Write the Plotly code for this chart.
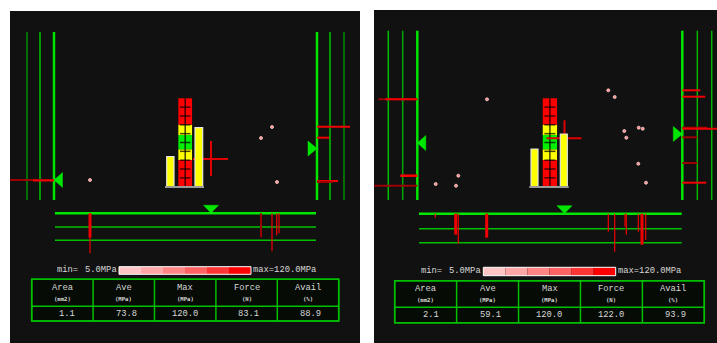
import plotly.graph_objects as go

FIG_W, FIG_H = 717, 343

# ---------------- readings ----------------
TABLE_HEADERS = ["Area", "Ave", "Max", "Force", "Avail"]
TABLE_UNITS = ["(mm2)", "(MPa)", "(MPa)", "(N)", "(%)"]
TABLE_A = [1.1, 73.8, 120.0, 83.1, 88.9]
TABLE_B = [2.1, 59.1, 120.0, 122.0, 93.9]

SCALE_MIN = 5.0
SCALE_MAX = 120.0

# stacked zones of the centre gauge, bottom -> top
COLUMN_ZONES = [26.7, 10.7, 14.3, 10.3, 26.4]

# side bar heights (left bar, right bar)
BARS_A = [30.2, 59.0]
BARS_B = [37.7, 52.7]

# load centre (x, y)
CROSS_A = [25.8, 27.7]
CROSS_B = [14.6, 48.4]

# rail marker heights (west marker, east marker)
RAIL_MARK_A = [6.7, 38.2]
RAIL_MARK_B = [43.7, 52.7]

# contact points
DOTS_A_X = [-95.2, 86.8, 75.8, 91.8]
DOTS_A_Y = [6.7, 59.7, 48.7, 4.7]
DOTS_B_X = [-62.9, 58.4, 64.8, -91.6, -114.2, -93.9, 74.4, 88.8, 92.8, 76.4, 88.4, 96.1]
DOTS_B_Y = [87.4, 96.4, 89.7, 11.0, 2.7, 1.0, 55.7, 59.0, 58.0, 49.0, 23.0, 4.0]

# projected profiles: position, length, level (0 faint, 1 normal, 2 strong)
WEST_A_Y = [6.7, 6.2]
WEST_A_LEN = [44, 21]
WEST_A_LVL = [0, 1]
EAST_A_Y = [60.0, 49.0, 5.7, 4.7]
EAST_A_LEN = [33, 12, 21, 16]
EAST_A_LVL = [1, 1, 1, 0]
SOUTH_A_X = [-95.2, -95.2, 75.8, 86.8, 91.5, 93.8]
SOUTH_A_LEN = [24, 40, 24, 38, 22, 20]
SOUTH_A_LVL = [2, 1, 0, 1, 1, 1]

WEST_B_Y = [87.4, 87.4, 11.0, 1.0]
WEST_B_LEN = [39, 32, 17, 43]
WEST_B_LVL = [0, 1, 2, 0]
EAST_B_Y = [96.4, 90.0, 59.0, 58.0, 49.4, 23.7, 4.0]
EAST_B_LEN = [18, 23, 25, 40, 15, 15, 24]
EAST_B_LVL = [1, 1, 0, 1, 0, 0, 1]
SOUTH_B_X = [-114.6, -94.2, -91.6, -63.2, 58.4, 64.8, 75.1, 76.4, 88.4, 92.1, 95.8]
SOUTH_B_LEN = [4, 21, 30, 24, 18, 38, 13, 21, 18, 31, 26]
SOUTH_B_LVL = [1, 2, 1, 2, 1, 1, 1, 1, 1, 2, 1]

# ---------------- styling ----------------
PANEL_BG = "#111111"
TEXT_COLOR = "#d8d8d8"
GRID_GREEN = "#00c000"
BRIGHT_GREEN = "#00e600"
TABLE_BG = "#060b06"
MONO = "Liberation Mono, DejaVu Sans Mono, monospace"
SCALE_COLORS = ["#ffc4c4", "#ffa6a6", "#ff8585", "#ff6262", "#ff3434", "#ff0000"]
ZONE_COLORS = ["#ff0000", "#ffff00", "#00ee00", "#ffff00", "#ff0000"]
H_LINE_STYLE = {0: ("#9c0000", 2.0), 1: ("#f00000", 2.0), 2: ("#ff0000", 2.5)}
V_LINE_STYLE = {0: ("#9c0000", 2.0), 1: ("#f00000", 1.2), 2: ("#f00000", 3.0)}

# panel frames (pixel extents on the page) and local layout in panel units
GEOM_A = dict(
    px=(10, 360), py=(11, 343), cx=185.2, base=186.7,
    west=[-158.2, -145.2, -131.2], west_col=["#008c00", "#00c400", BRIGHT_GREEN], west_w=[1.5, 1.5, 2.5],
    east=[131.8, 144.8, 158.8], east_col=[BRIGHT_GREEN, "#00c400", "#008c00"], east_w=[2.5, 1.5, 1.5],
    rail_top=154.7, rail_bot=-13.3,
    south_x=[-130.2, 130.8], south_y=[-26.6, -40.3, -53.6],
    bar_x=[-14.85, 13.65], bar_w=[7.3, 7.7], col_w=13.7, base_line=[-20.2, 18.8],
    text_y=-83.3, text_x=-130.2, scale_x=[-66.2, 65.8], scale_y=-83.8, scale_h=7.6,
    table_x=[-153.5, 153.5], table_y=[-92.6, -134.3], table_mid=-119.6,
    hdr_y=-100.8, unit_y=-112.0, val_y=-127.0,
)
GEOM_B = dict(
    px=(374, 717), py=(10, 343), cx=549.9, base=186.7,
    west=[-161.6, -147.2, -132.6], west_col=["#00c000", "#00a800", BRIGHT_GREEN], west_w=[1.5, 1.5, 2.5],
    east=[132.4, 147.4, 161.8], east_col=[BRIGHT_GREEN, "#00b400", "#00b400"], east_w=[2.5, 1.5, 1.5],
    rail_top=156.0, rail_bot=-13.3,
    south_x=[-130.9, 131.8], south_y=[-27.0, -42.0, -56.0],
    bar_x=[-15.4, 13.9], bar_w=[7.0, 7.0], col_w=14.3, base_line=[-20.6, 18.8],
    text_y=-84.0, text_x=-130.9, scale_x=[-66.6, 65.8], scale_y=-84.8, scale_h=8.4,
    table_x=[-155.2, 154.4], table_y=[-94.0, -136.0], table_mid=-120.6,
    hdr_y=-102.0, unit_y=-113.6, val_y=-128.6,
)

fig = go.Figure()
annotations = []
shapes = []


def add_panel(n, g, table, bars, cross, marks, dots_x, dots_y,
              west, east, south):
    xr = "x" if n == 1 else f"x{n}"
    yr = "y" if n == 1 else f"y{n}"
    on = dict(xaxis=xr, yaxis=yr, hoverinfo="skip", showlegend=False)

    def seg(xs, ys, color, width, z=0):
        fig.add_trace(go.Scatter(x=xs, y=ys, mode="lines",
                                 line=dict(color=color, width=width), zorder=z, **on))

    def tri(pts, color):
        xs = [p[0] for p in pts] + [pts[0][0]]
        ys = [p[1] for p in pts] + [pts[0][1]]
        fig.add_trace(go.Scatter(x=xs, y=ys, mode="lines", fill="toself",
                                 fillcolor=color, line=dict(color=color, width=0.5), **on))

    # vertical rails
    for x, c, w in zip(g["west"], g["west_col"], g["west_w"]):
        seg([x, x], [g["rail_bot"], g["rail_top"]], c, w)
    for x, c, w in zip(g["east"], g["east_col"], g["east_w"]):
        seg([x, x], [g["rail_bot"], g["rail_top"]], c, w)

    # horizontal rails below the gauge
    sx0, sx1 = g["south_x"]
    for i, y in enumerate(g["south_y"]):
        seg([sx0, sx1], [y, y], BRIGHT_GREEN if i == 0 else GRID_GREEN, 2.5 if i == 0 else 1.5)

    # projected profiles
    wx = g["west"][2]
    for y, ln, lv in zip(*west):
        c, w = H_LINE_STYLE[lv]
        seg([wx - ln, wx], [y, y], c, w)
    ex = g["east"][0]
    for y, ln, lv in zip(*east):
        c, w = H_LINE_STYLE[lv]
        seg([ex, ex + ln], [y, y], c, w)
    top = g["south_y"][0]
    for x, ln, lv in zip(*south):
        c, w = V_LINE_STYLE[lv]
        seg([x, x], [top, top - ln], c, w)

    # rail markers
    tri([(wx, marks[0]), (wx + 8.5, marks[0] + 7.5), (wx + 8.5, marks[0] - 7.5)], BRIGHT_GREEN)
    tri([(ex, marks[1]), (ex - 9, marks[1] + 7.5), (ex - 9, marks[1] - 7.5)], BRIGHT_GREEN)
    tri([(cross[0], top + 0.3), (cross[0] - 7.5, top + 8), (cross[0] + 7.5, top + 8)], BRIGHT_GREEN)

    # contact points
    fig.add_trace(go.Scatter(x=dots_x, y=dots_y, mode="markers",
                             marker=dict(size=3, color="#ff8a8a",
                                         line=dict(color="#ffd8d8", width=0.8)), **on))

    # centre gauge
    bases = [sum(COLUMN_ZONES[:i]) for i in range(len(COLUMN_ZONES))]
    fig.add_trace(go.Bar(x=[0] * len(COLUMN_ZONES), y=COLUMN_ZONES, base=bases,
                         width=[g["col_w"]] * len(COLUMN_ZONES),
                         marker=dict(color=ZONE_COLORS, line=dict(width=0)), zorder=0, **on))
    total = sum(COLUMN_ZONES)
    seg([0, 0], [0, total], "rgba(0,0,0,0.75)", 1.5, z=1)
    hw = g["col_w"] / 2 - 1.6
    tx, ty = [], []
    for k in range(1, 10):
        yk = total * k / 10
        tx += [-hw, hw, None]
        ty += [yk, yk, None]
    fig.add_trace(go.Scatter(x=tx, y=ty, mode="lines",
                             line=dict(color="rgba(0,0,0,0.72)", width=1.5), zorder=1, **on))

    # load centre cross
    cxv, cyv = cross
    seg([cxv - 18, cxv + 17], [cyv, cyv], "#e00000", 2, z=1)
    seg([cxv, cxv], [cyv - 17, cyv + 18], "#e00000", 2, z=1)

    # side bars
    fig.add_trace(go.Bar(x=g["bar_x"], y=bars, base=[0, 0], width=g["bar_w"],
                         marker=dict(color="#ffff00", line=dict(color="#e4e4e4", width=1.2)),
                         zorder=2, **on))
    b0, b1 = g["base_line"]
    seg([b0, b1], [-0.4, -0.4], "#9a9a9a", 2, z=2)

    # pressure scale
    s0, s1 = g["scale_x"]
    sw = (s1 - s0) / len(SCALE_COLORS)
    fig.add_trace(go.Bar(y=[g["scale_y"]] * len(SCALE_COLORS), x=[sw] * len(SCALE_COLORS),
                         base=[s0 + i * sw for i in range(len(SCALE_COLORS))],
                         orientation="h", width=[g["scale_h"]] * len(SCALE_COLORS),
                         marker=dict(color=SCALE_COLORS, line=dict(width=0)), **on))
    shapes.append(dict(type="rect", xref=xr, yref=yr, x0=s0, x1=s1,
                       y0=g["scale_y"] - g["scale_h"] / 2, y1=g["scale_y"] + g["scale_h"] / 2,
                       line=dict(color="#ffffff", width=1)))
    font = dict(family=MONO, size=8.8, color=TEXT_COLOR)
    annotations.append(dict(xref=xr, yref=yr, x=g["text_x"], y=g["text_y"], text="min=",
                            showarrow=False, xanchor="left", yanchor="middle", font=font))
    annotations.append(dict(xref=xr, yref=yr, x=s0 - 0.5, y=g["text_y"],
                            text=f"{SCALE_MIN:.1f}MPa",
                            showarrow=False, xanchor="right", yanchor="middle", font=font))
    annotations.append(dict(xref=xr, yref=yr, x=s1, y=g["text_y"],
                            text=f"max={SCALE_MAX:.1f}MPa",
                            showarrow=False, xanchor="left", yanchor="middle", font=font))

    # summary table
    t0, t1 = g["table_x"]
    ty0, ty1 = g["table_y"]
    shapes.append(dict(type="rect", xref=xr, yref=yr, x0=t0, x1=t1, y0=ty1, y1=ty0,
                       fillcolor=TABLE_BG, line=dict(color=GRID_GREEN, width=1.5), layer="below"))
    shapes.append(dict(type="line", xref=xr, yref=yr, x0=t0, x1=t1,
                       y0=g["table_mid"], y1=g["table_mid"],
                       line=dict(color=GRID_GREEN, width=1.5)))
    shapes.append(dict(type="rect", xref=xr, yref=yr, x0=t0, x1=t1, y0=ty1, y1=ty0,
                       line=dict(color=GRID_GREEN, width=1.5)))
    cw = (t1 - t0) / len(TABLE_HEADERS)
    unit_font = dict(family="DejaVu Sans Mono, monospace", size=5.6, color=TEXT_COLOR)
    for i, (h, u, v) in enumerate(zip(TABLE_HEADERS, TABLE_UNITS, table)):
        left = t0 + i * cw
        if i:
            shapes.append(dict(type="line", xref=xr, yref=yr, x0=left, x1=left, y0=ty1, y1=ty0,
                               line=dict(color=GRID_GREEN, width=1.5)))
        annotations.append(dict(xref=xr, yref=yr, x=left + cw / 2, y=g["hdr_y"], text=h,
                                showarrow=False, xanchor="center", yanchor="middle", font=font))
        annotations.append(dict(xref=xr, yref=yr, x=left + cw / 2, y=g["unit_y"], text=f"<b>{u}</b>",
                                showarrow=False, xanchor="center", yanchor="middle", font=unit_font))
        annotations.append(dict(xref=xr, yref=yr, x=left + cw - 16, y=g["val_y"], text=f"{v:.1f}",
                                showarrow=False, xanchor="right", yanchor="middle", font=font))


add_panel(1, GEOM_A, TABLE_A, BARS_A, CROSS_A, RAIL_MARK_A, DOTS_A_X, DOTS_A_Y,
          (WEST_A_Y, WEST_A_LEN, WEST_A_LVL), (EAST_A_Y, EAST_A_LEN, EAST_A_LVL),
          (SOUTH_A_X, SOUTH_A_LEN, SOUTH_A_LVL))
add_panel(2, GEOM_B, TABLE_B, BARS_B, CROSS_B, RAIL_MARK_B, DOTS_B_X, DOTS_B_Y,
          (WEST_B_Y, WEST_B_LEN, WEST_B_LVL), (EAST_B_Y, EAST_B_LEN, EAST_B_LVL),
          (SOUTH_B_X, SOUTH_B_LEN, SOUTH_B_LVL))


def axes(g):
    (px0, px1), (py0, py1), cx, base = g["px"], g["py"], g["cx"], g["base"]
    common = dict(visible=False, showgrid=False, zeroline=False, fixedrange=True)
    xa = dict(domain=[px0 / FIG_W, px1 / FIG_W], range=[px0 - cx, px1 - cx], **common)
    ya = dict(domain=[1 - py1 / FIG_H, 1 - py0 / FIG_H], range=[base - py1, base - py0], **common)
    return xa, ya


xa1, ya1 = axes(GEOM_A)
xa2, ya2 = axes(GEOM_B)
ya1["anchor"] = "x"
xa1["anchor"] = "y"
xa2["anchor"] = "y2"
ya2["anchor"] = "x2"

fig.update_layout(
    width=FIG_W, height=FIG_H, autosize=False,
    margin=dict(l=0, r=0, t=0, b=0, pad=0),
    paper_bgcolor="#ffffff", plot_bgcolor=PANEL_BG,
    barmode="overlay", hovermode=False, showlegend=False,
    xaxis=xa1, yaxis=ya1, xaxis2=xa2, yaxis2=ya2,
    shapes=shapes, annotations=annotations,
)

fig.write_html("out.html", config={"displayModeBar": False, "staticPlot": True})
